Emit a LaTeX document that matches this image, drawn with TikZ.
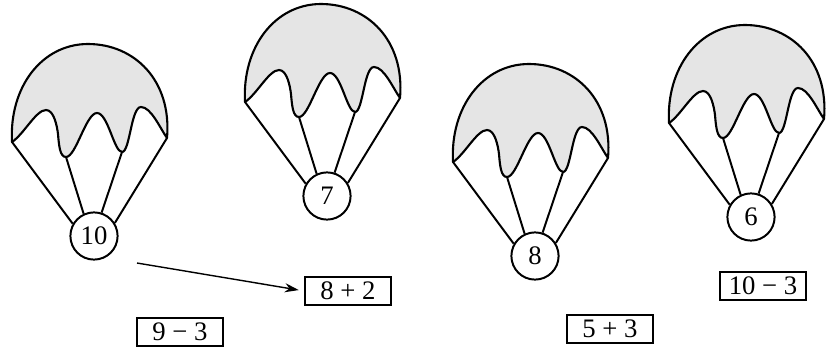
\documentclass[tikz,border=0pt]{standalone}
\usepackage{fontspec}
\setmainfont{Liberation Serif}
\newfontfamily\numfont{Liberation Serif}
\usetikzlibrary{arrows.meta}
\tikzset{
  canopy/.style={fill=black!10, line width=1.5pt, line join=round},
  cord/.style={line width=1.4pt},
  ball/.style={circle, draw, fill=white, line width=1.4pt, minimum size=1.18cm, inner sep=0pt, font=\numfont\fontsize{19}{22}\selectfont},
  sumbox/.style={draw, line width=0.9pt, minimum width=2.15cm, minimum height=0.7cm, inner sep=2pt, font=\numfont\fontsize{19}{22}\selectfont}
}
\begin{document}
\begin{tikzpicture}[x=0.025cm, y=-0.025cm, >={Stealth[length=10pt,width=6.5pt]}]
\useasboundingbox (0,0) rectangle (829,349);
% parachutes
\foreach \name/\px/\py/\num in {a/12/142/10, b/245/102/7, c/453/162/8, d/669/123/6}{
  \begin{scope}[shift={(\px,\py)}]
    \draw[canopy] (0,0) .. controls (12,-8) and (24,-32) .. (34,-32)
      .. controls (42,-32) and (45,-16) .. (46,-8)
      .. controls (47,4) and (48,15) .. (54,15)
      .. controls (64,15) and (74,-29) .. (85,-29)
      .. controls (96,-29) and (102,10) .. (110,10)
      .. controls (118,10) and (119,-35) .. (129,-35)
      .. controls (139,-35) and (148,-14) .. (155,-4)
      .. controls (160,-62) and (122,-98) .. (76,-98)
      .. controls (30,-98) and (-3,-55) .. (0,0) -- cycle;
    \coordinate (\name L) at (0,0);
    \coordinate (\name T1) at (54,15);
    \coordinate (\name T2) at (110,10);
    \coordinate (\name R) at (155,-4);
    \node[ball] (\name) at (82,94) {\num};
    \draw[cord] (\name L) -- (\name.150);
    \draw[cord] (\name T1) -- (\name.115);
    \draw[cord] (\name T2) -- (\name.72);
    \draw[cord] (\name R) -- (\name.32);
  \end{scope}
}
% sums
\node[sumbox] (s82) at (348,291) {8 + 2};
\node[sumbox] (s93) at (180,332) {9 − 3};
\node[sumbox] (s53) at (610,329) {5 + 3};
\node[sumbox] (s103) at (763,286) {10 − 3};
\coordinate (tail) at (137,263);
\draw[->, line width=1pt, shorten >=4pt] (tail) -- (s82.west);
\end{tikzpicture}
\end{document}
